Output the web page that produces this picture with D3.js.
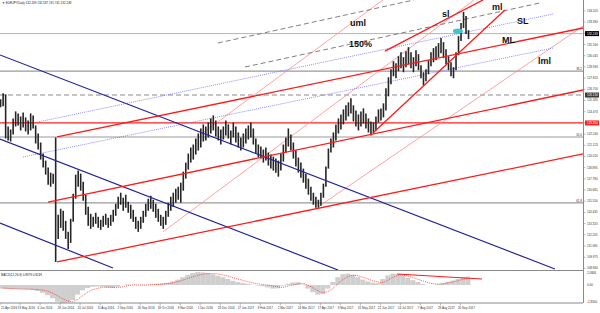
<!DOCTYPE html>
<html>
<head>
<meta charset="utf-8">
<script src="https://cdn.jsdelivr.net/npm/d3@7"></script>
<style>
  body { margin: 0; background: #fff; }
  svg { display: block; font-family: "Liberation Sans", Arial, sans-serif; }
</style>
</head>
<body>
<div id="chart"></div>
<script>
// EURJPY daily, one entry = two sessions, starting 21 Apr 2016
var highs = [125.7,126.3,126.2,123.0,122.7,123.8,124.5,124.3,124.0,124.4,
  123.9,123.6,124.3,124.1,123.1,122.3,121.4,120.3,119.6,118.9,
  118.4,118.3,121.9,114.2,114.8,114.6,113.6,112.5,113.8,116.3,
  118.2,118.6,118.3,117.5,116.2,115.0,114.3,114.0,114.4,114.0,
  113.7,114.1,114.3,113.9,114.2,114.7,115.3,116.0,116.4,115.9,
  116.2,115.5,115.2,114.7,114.0,113.6,114.0,114.6,115.3,115.8,
  116.1,115.7,115.3,114.8,114.2,114.0,114.6,115.4,116.0,116.4,
  116.8,117.0,117.4,118.5,119.4,120.3,120.9,121.2,121.8,122.3,
  122.8,123.2,123.0,123.4,123.8,124.1,123.6,123.0,122.7,123.0,
  123.6,123.2,122.6,123.4,123.0,122.4,121.9,122.3,122.8,123.1,
  123.4,122.8,121.8,121.2,121.0,120.7,120.9,120.4,120.2,120.0,
  119.8,119.6,120.3,121.2,121.9,122.8,122.2,121.4,120.6,119.9,
  119.4,118.8,118.3,117.8,117.0,116.4,116.0,115.7,116.4,117.3,
  119.0,120.8,121.8,122.4,123.2,123.8,124.2,124.7,125.1,125.4,
  125.8,125.1,124.6,124.2,124.5,124.8,124.3,123.8,123.5,123.4,
  124.0,124.7,124.8,125.3,126.8,127.9,128.7,129.5,129.3,130.0,
  130.4,129.9,130.5,130.9,130.4,129.9,130.6,130.2,129.1,128.4,
  128.7,129.6,130.4,130.8,131.0,131.3,131.8,131.4,130.7,130.0,
  129.4,128.9,130.4,132.0,133.3,134.4,134.0,132.6];
var lows = [124.9,125.0,121.8,121.6,121.5,122.2,123.0,123.1,122.6,122.9,
  122.5,122.2,122.6,122.8,121.3,120.7,119.7,118.9,118.2,117.2,
  117.0,117.3,109.5,111.8,112.9,112.6,111.8,110.8,111.4,113.5,
  115.8,117.0,116.6,115.6,114.2,113.1,112.8,113.0,113.3,112.9,
  112.7,113.0,113.2,112.9,113.1,113.5,114.1,114.8,115.2,114.6,
  114.9,114.4,113.8,113.5,112.8,112.5,112.8,113.4,114.0,114.6,
  114.8,114.5,113.9,113.5,113.1,112.8,113.2,114.0,114.6,115.0,
  115.4,115.7,115.4,116.6,117.8,118.7,119.4,119.7,120.2,120.6,
  120.9,121.5,121.6,121.9,122.3,122.6,122.0,121.6,121.2,121.7,
  122.1,121.8,121.2,121.9,121.4,120.9,120.6,120.9,121.3,121.7,
  121.9,121.2,120.3,119.9,119.8,119.4,119.6,119.1,118.8,118.6,
  118.4,118.0,118.6,119.5,120.4,121.0,120.6,119.8,119.0,118.4,
  117.9,117.4,116.8,116.2,115.6,115.2,114.9,114.9,115.1,115.9,
  117.0,118.8,120.4,120.9,121.6,122.3,122.7,123.2,123.6,124.0,
  124.3,123.5,123.0,122.6,123.0,123.3,122.8,122.4,122.1,122.3,
  122.6,123.4,123.6,123.9,124.6,126.0,127.2,128.0,127.8,128.5,
  128.8,128.4,128.9,129.2,128.8,128.4,129.0,128.6,127.8,127.1,
  127.5,128.2,129.0,129.4,129.6,129.9,130.3,129.8,129.2,128.6,
  128.0,127.8,128.6,130.1,131.5,132.8,132.2,131.7];

// MACD(12,26,9), one entry = four sessions
var macdMain = [-0.6,-0.65,-0.7,-0.7,-0.7,-0.75,-0.85,-1.0,-1.3,-1.7,
  -2.2,-2.8,-3.0,-2.9,-2.5,-1.6,-0.9,-0.5,-0.3,-0.25,
  -0.3,-0.45,-0.5,-0.3,0.0,0.1,0.05,0.0,-0.05,0.0,
  0.1,0.2,0.3,0.4,0.6,0.9,1.3,1.7,2.0,2.15,
  2.1,2.0,1.8,1.55,1.3,1.0,0.7,0.5,0.35,0.2,
  0.05,-0.1,-0.2,-0.4,-0.6,-0.55,-0.1,0.2,0.4,0.45,
  0.1,-0.6,-1.2,-1.6,-1.5,-0.6,0.5,1.3,1.8,1.9,
  1.7,1.3,0.9,0.6,0.4,0.3,1.0,1.6,1.9,1.85,
  1.6,1.2,0.8,0.5,0.2,0.0,0.0,0.1,0.35,0.55,
  0.75,1.0,1.3,1.4];
var macdSignal = [-0.5,-0.55,-0.6,-0.65,-0.68,-0.68,-0.7,-0.75,-0.85,-1.0,
  -1.35,-1.8,-2.3,-2.65,-2.8,-2.4,-1.8,-1.2,-0.8,-0.55,
  -0.4,-0.35,-0.4,-0.45,-0.3,-0.1,0.0,0.02,0.0,0.0,
  0.05,0.1,0.15,0.25,0.35,0.55,0.8,1.1,1.35,1.6,
  1.8,1.9,1.92,1.85,1.68,1.5,1.25,1.0,0.8,0.55,
  0.35,0.2,0.08,0.0,-0.15,-0.3,-0.4,-0.2,0.0,0.2,
  0.3,0.0,-0.45,-0.95,-1.3,-1.1,-0.6,0.2,0.9,1.4,
  1.65,1.55,1.3,1.0,0.7,0.5,0.4,0.8,1.3,1.6,
  1.68,1.5,1.25,0.95,0.7,0.4,0.2,0.15,0.2,0.35,
  0.5,0.7,0.95,1.15];

var dateLabels = ["21 Apr 2016","13 May 2016","6 Jun 2016","28 Jun 2016","20 Jul 2016","11 Aug 2016",
  "2 Sep 2016","26 Sep 2016","18 Oct 2016","9 Nov 2016","1 Dec 2016","23 Dec 2016",
  "17 Jan 2017","8 Feb 2017","2 Mar 2017","24 Mar 2017","17 Apr 2017","9 May 2017",
  "31 May 2017","22 Jun 2017","14 Jul 2017","7 Aug 2017","29 Aug 2017","20 Sep 2017"];
var priceTicks = [108.860,109.975,111.090,112.205,113.320,114.435,115.550,116.665,117.780,118.895,
  120.010,121.125,122.240,123.355,124.470,125.585,126.700,127.815,128.930,130.045,
  131.160,132.275,133.390,134.505];
var macdTicks = [2.0846, 0, -2.85];

var fibLevels = [128.51, 121.95, 115.38];
var fibNames = ["38.2", "50.0", "61.8"];
var bidPrice = 132.248;
var dashLevel = 126.13;
var redLevel = 123.35;

// trend lines: [day1, price1, day2, price2]
var navyLines = [[0,130.12,443.6,108.8],[0,121.75,270.2,108.7],[0,113.38,90.3,108.9]];
var redLines = [[45.6,109.5,466,120.26],[38.4,115.47,466,126.63],[45.6,121.95,466,132.81],
  [298.1,122.35,403.6,134.6],[307.7,130.5,386.1,135.6]];
var pinkLines = [[159.9,122.15,306.1,135.6],[130.3,112.5,379,135.6],[254.2,114.98,466,133.0]];
var greyDashLines = [[174.2,131.31,330.9,135.6],[195.8,128.92,431.6,135.3]];
var blueDotLines = [[26.4,123.34,442,134.2],[18.4,119.96,442,130.81]];
var macdLine = [317.4,1.83,385.3,1.0];

var notes = [["uml",279.8,133.01],["150%",279.0,130.91],["sl",353.3,133.9],["ml",393.3,134.6],
  ["SL",413.2,133.2],["ML",401.3,131.31],["lml",430.0,129.22]];
var marker = [366, 132.5];

var W = 600, H = 313, right = 583;
var svg = d3.select("#chart").append("svg").attr("width", W).attr("height", H);

var x = d3.scaleLinear().domain([0, 466]).range([0, right]);
var y = d3.scaleLinear().domain([108.9, 134.4]).range([268, 12]);
var ym = d3.scaleLinear().domain([-2.9, 2.085]).range([302.4, 272.5]);

svg.append("clipPath").attr("id", "mainClip").append("rect")
  .attr("x", 0).attr("y", 0).attr("width", right).attr("height", 270);
svg.append("clipPath").attr("id", "macdClip").append("rect")
  .attr("x", 0).attr("y", 271).attr("width", right).attr("height", 32);

var main = svg.append("g").attr("clip-path", "url(#mainClip)");

// horizontal levels
main.selectAll(".fib").data(fibLevels).enter().append("line")
  .attr("x1", 0).attr("x2", right)
  .attr("y1", function(d) { return y(d); }).attr("y2", function(d) { return y(d); })
  .attr("stroke", "#9a9a9a").attr("stroke-width", 1.2);
main.append("line").attr("x1", 0).attr("x2", right)
  .attr("y1", y(bidPrice)).attr("y2", y(bidPrice))
  .attr("stroke", "#b4b4b4").attr("stroke-width", 1);
main.append("line").attr("x1", 0).attr("x2", right)
  .attr("y1", y(dashLevel)).attr("y2", y(dashLevel))
  .attr("stroke", "#8c8c8c").attr("stroke-width", 1.2).attr("stroke-dasharray", "5,3");
main.append("line").attr("x1", 0).attr("x2", right)
  .attr("y1", y(redLevel)).attr("y2", y(redLevel))
  .attr("stroke", "#ff2020").attr("stroke-width", 1.2);

function drawLines(data, color, width, dash) {
  main.append("g").selectAll("line").data(data).enter().append("line")
    .attr("x1", function(d) { return x(d[0]); })
    .attr("y1", function(d) { return y(d[1]); })
    .attr("x2", function(d) { return x(d[2]); })
    .attr("y2", function(d) { return y(d[3]); })
    .attr("stroke", color).attr("stroke-width", width)
    .attr("stroke-dasharray", dash || null);
}

drawLines(pinkLines, "#ff8a8a", 0.8);
drawLines(blueDotLines, "#7070ff", 0.8, "1,1");
drawLines(greyDashLines, "#808080", 1, "5,3");

// price bars
main.append("g").selectAll("line").data(highs).enter().append("line")
  .attr("x1", function(d, i) { return x(2 * i + 0.5); })
  .attr("x2", function(d, i) { return x(2 * i + 0.5); })
  .attr("y1", function(d) { return y(d); })
  .attr("y2", function(d, i) { return y(lows[i]); })
  .attr("stroke", "#252525").attr("stroke-width", 1.6);

drawLines(navyLines, "#24249c", 1.2);
drawLines(redLines, "#ff1a1a", 1.3);

main.append("ellipse").attr("cx", x(marker[0])).attr("cy", y(marker[1]))
  .attr("rx", 5).attr("ry", 2.6).attr("fill", "#3ec6c6");

main.selectAll(".note").data(notes).enter().append("text")
  .attr("x", function(d) { return x(d[1]); })
  .attr("y", function(d) { return y(d[2]); })
  .attr("font-size", 9).attr("font-weight", "bold").attr("fill", "#111")
  .text(function(d) { return d[0]; });

main.selectAll(".fibtxt").data(fibLevels).enter().append("text")
  .attr("x", right - 1).attr("y", function(d) { return y(d) - 1; })
  .attr("text-anchor", "end").attr("font-size", 3).attr("fill", "#333")
  .text(function(d, i) { return fibNames[i]; });

// MACD panel
var mg = svg.append("g").attr("clip-path", "url(#macdClip)");
mg.selectAll("rect").data(macdMain).enter().append("rect")
  .attr("x", function(d, i) { return x(4 * i); })
  .attr("width", x(4) - x(0))
  .attr("y", function(d) { return Math.min(ym(d), ym(0)); })
  .attr("height", function(d) { return Math.abs(ym(d) - ym(0)); })
  .attr("fill", "#cfcfcf");
mg.append("path").datum(macdSignal)
  .attr("d", d3.line().x(function(d, i) { return x(4 * i + 2); }).y(function(d) { return ym(d); }))
  .attr("fill", "none").attr("stroke", "#ff3030").attr("stroke-width", 0.8)
  .attr("stroke-dasharray", "1,1");
mg.append("line")
  .attr("x1", x(macdLine[0])).attr("y1", ym(macdLine[1]))
  .attr("x2", x(macdLine[2])).attr("y2", ym(macdLine[3]))
  .attr("stroke", "#ff1a1a").attr("stroke-width", 1.1);

// frames
svg.append("line").attr("x1", 0).attr("x2", right).attr("y1", 270.5).attr("y2", 270.5)
  .attr("stroke", "#8a8a8a").attr("stroke-width", 1);
svg.append("line").attr("x1", 0).attr("x2", right).attr("y1", 303).attr("y2", 303)
  .attr("stroke", "#8a8a8a").attr("stroke-width", 1);
svg.append("line").attr("x1", right + 0.5).attr("x2", right + 0.5).attr("y1", 0).attr("y2", 303)
  .attr("stroke", "#8a8a8a").attr("stroke-width", 1);

// right price axis
var axisG = svg.append("g").attr("font-size", 3).attr("fill", "#333");
axisG.selectAll("text").data(priceTicks).enter().append("text")
  .attr("x", right + 4).attr("y", function(d) { return y(d) + 1; })
  .text(function(d) { return d.toFixed(3); });
axisG.selectAll("line").data(priceTicks).enter().append("line")
  .attr("x1", right).attr("x2", right + 2.5)
  .attr("y1", function(d) { return y(d); }).attr("y2", function(d) { return y(d); })
  .attr("stroke", "#8a8a8a").attr("stroke-width", 0.6);

function priceTag(p, bg, fg) {
  svg.append("rect").attr("x", right + 2).attr("y", y(p) - 2.5).attr("width", 14).attr("height", 5).attr("fill", bg);
  svg.append("text").attr("x", right + 4).attr("y", y(p) + 1).attr("font-size", 3).attr("fill", fg)
    .text(p.toFixed(3));
}
priceTag(bidPrice, "#000", "#fff");
priceTag(dashLevel, "#3a3a3a", "#fff");
priceTag(redLevel, "#ff2020", "#fff");

// MACD axis
svg.append("g").attr("font-size", 3).attr("fill", "#333")
  .selectAll("text").data(macdTicks).enter().append("text")
  .attr("x", right + 4).attr("y", function(d) { return ym(d) + 1; })
  .text(function(d) { return d === 0 ? "0.00" : d.toFixed(4); });

// date axis
var dg = svg.append("g").attr("font-size", 3).attr("fill", "#333");
dg.selectAll("text").data(dateLabels).enter().append("text")
  .attr("x", function(d, i) { return Math.max(1, x(16 * i) - 2.5); })
  .attr("y", 309)
  .text(function(d) { return d; });
dg.selectAll("line").data(dateLabels).enter().append("line")
  .attr("x1", function(d, i) { return x(16 * i); }).attr("x2", function(d, i) { return x(16 * i); })
  .attr("y1", 303).attr("y2", 305.5)
  .attr("stroke", "#8a8a8a").attr("stroke-width", 0.6);

svg.append("text").attr("x", 2).attr("y", 4).attr("font-size", 3).attr("fill", "#222")
  .text("\u25BC EURJPY,Daily  132.209 132.587 131.741 132.248");
svg.append("text").attr("x", 1).attr("y", 275.5).attr("font-size", 3).attr("fill", "#222")
  .text("MACD(12,26,9) 0.8979 0.8249");
</script>
</body>
</html>
